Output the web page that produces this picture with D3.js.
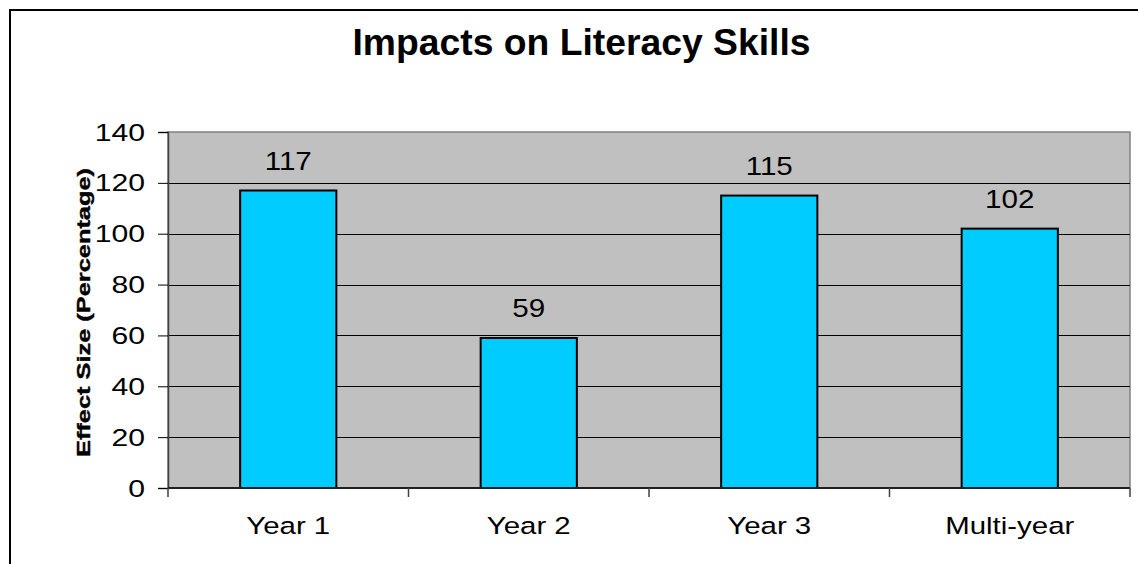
<!DOCTYPE html>
<html>
<head>
<meta charset="utf-8">
<script src="https://cdn.jsdelivr.net/npm/d3@7/dist/d3.min.js"></script>
<style>
  html, body { margin: 0; padding: 0; background: #fff; }
  svg { display: block; }
  text { font-family: "Liberation Sans", Arial, sans-serif; fill: #000; }
</style>
</head>
<body>
<svg id="chart" width="1138" height="564"></svg>
<script>
const categories = ["Year 1", "Year 2", "Year 3", "Multi-year"];
const values = [117, 59, 115, 102];
const yTicks = [0, 20, 40, 60, 80, 100, 120, 140];
const title = "Impacts on Literacy Skills";
const yTitle = "Effect Size (Percentage)";

const svg = d3.select("#chart");
const plot = { left: 168, right: 1130, top: 132, bottom: 488 };

// outer frame (extends beyond the window on right/bottom)
svg.append("rect").attr("x", 10).attr("y", 10).attr("width", 1200).attr("height", 600)
  .attr("fill", "#fff").attr("stroke", "#000").attr("stroke-width", 2);

const x = d3.scaleBand().domain(categories).range([plot.left, plot.right])
  .paddingInner(0.6).paddingOuter(0.3);
const xEdge = d3.scaleLinear().domain([0, categories.length]).range([plot.left, plot.right]);
const y = d3.scaleLinear().domain([0, 140]).range([plot.bottom, plot.top]);

// stretch helper for text widths
function stretch(sel, f) {
  sel.each(function () {
    const w = this.getComputedTextLength();
    d3.select(this).attr("textLength", w * f).attr("lengthAdjust", "spacingAndGlyphs");
  });
}

// plot background
svg.append("rect").attr("x", plot.left).attr("y", plot.top)
  .attr("width", plot.right - plot.left).attr("height", plot.bottom - plot.top)
  .attr("fill", "#C0C0C0").attr("stroke", "#808080").attr("stroke-width", 1.5);

// gridlines
svg.append("g").selectAll("line").data(yTicks.filter(t => t > 0 && t < 140)).join("line")
  .attr("x1", plot.left).attr("x2", plot.right)
  .attr("y1", d => Math.round(y(d)) + 0.5).attr("y2", d => Math.round(y(d)) + 0.5)
  .attr("stroke", "#000").attr("stroke-width", 1);

// bars
svg.append("g").selectAll("rect").data(values).join("rect")
  .attr("x", (d, i) => x(categories[i]))
  .attr("y", d => y(d))
  .attr("width", x.bandwidth())
  .attr("height", d => y(0) - y(d))
  .attr("fill", "#00CCFF").attr("stroke", "#000").attr("stroke-width", 2);

// value labels
svg.append("g").selectAll("text").data(values).join("text")
  .attr("x", (d, i) => x(categories[i]) + x.bandwidth() / 2)
  .attr("y", d => y(d) - 20.5)
  .attr("text-anchor", "middle").attr("font-size", 25.5)
  .text(d => d)
  .call(stretch, 1.16);

// y axis
const yAxis = d3.axisLeft(y).tickValues(yTicks).tickSize(10).tickPadding(13);
const gy = svg.append("g").attr("transform", `translate(${plot.left},0)`).call(yAxis);
gy.select(".domain").attr("stroke", "#404040").attr("stroke-width", 1.5);
gy.selectAll(".tick line").attr("stroke", "#000");
gy.selectAll(".tick text").attr("font-size", 24.5).attr("font-family", "Liberation Sans, Arial, sans-serif")
  .attr("dy", "0.33em").attr("fill", "#000")
  .call(stretch, 1.23);

// x axis baseline and ticks at category boundaries
svg.append("line").attr("x1", plot.left).attr("x2", plot.right)
  .attr("y1", plot.bottom).attr("y2", plot.bottom)
  .attr("stroke", "#202020").attr("stroke-width", 2);
svg.append("g").selectAll("line").data(d3.range(categories.length + 1)).join("line")
  .attr("x1", d => xEdge(d)).attr("x2", d => xEdge(d))
  .attr("y1", plot.bottom).attr("y2", plot.bottom + 9)
  .attr("stroke", "#404040").attr("stroke-width", 1.5);

// x labels
svg.append("g").selectAll("text").data(categories).join("text")
  .attr("x", d => x(d) + x.bandwidth() / 2)
  .attr("y", 534)
  .attr("text-anchor", "middle").attr("font-size", 24.5)
  .text(d => d)
  .call(stretch, 1.2);

// title
svg.append("text").attr("x", 581.5).attr("y", 55)
  .attr("text-anchor", "middle").attr("font-size", 37.5).attr("font-weight", "bold")
  .text(title)
  .attr("textLength", 458).attr("lengthAdjust", "spacingAndGlyphs");

// y-axis title
svg.append("text")
  .attr("transform", "translate(90,312.5) rotate(-90)")
  .attr("text-anchor", "middle").attr("font-size", 19).attr("font-weight", "bold")
  .attr("stroke", "#000").attr("stroke-width", 0.4)
  .text(yTitle)
  .attr("textLength", 289).attr("lengthAdjust", "spacingAndGlyphs");
</script>
</body>
</html>
